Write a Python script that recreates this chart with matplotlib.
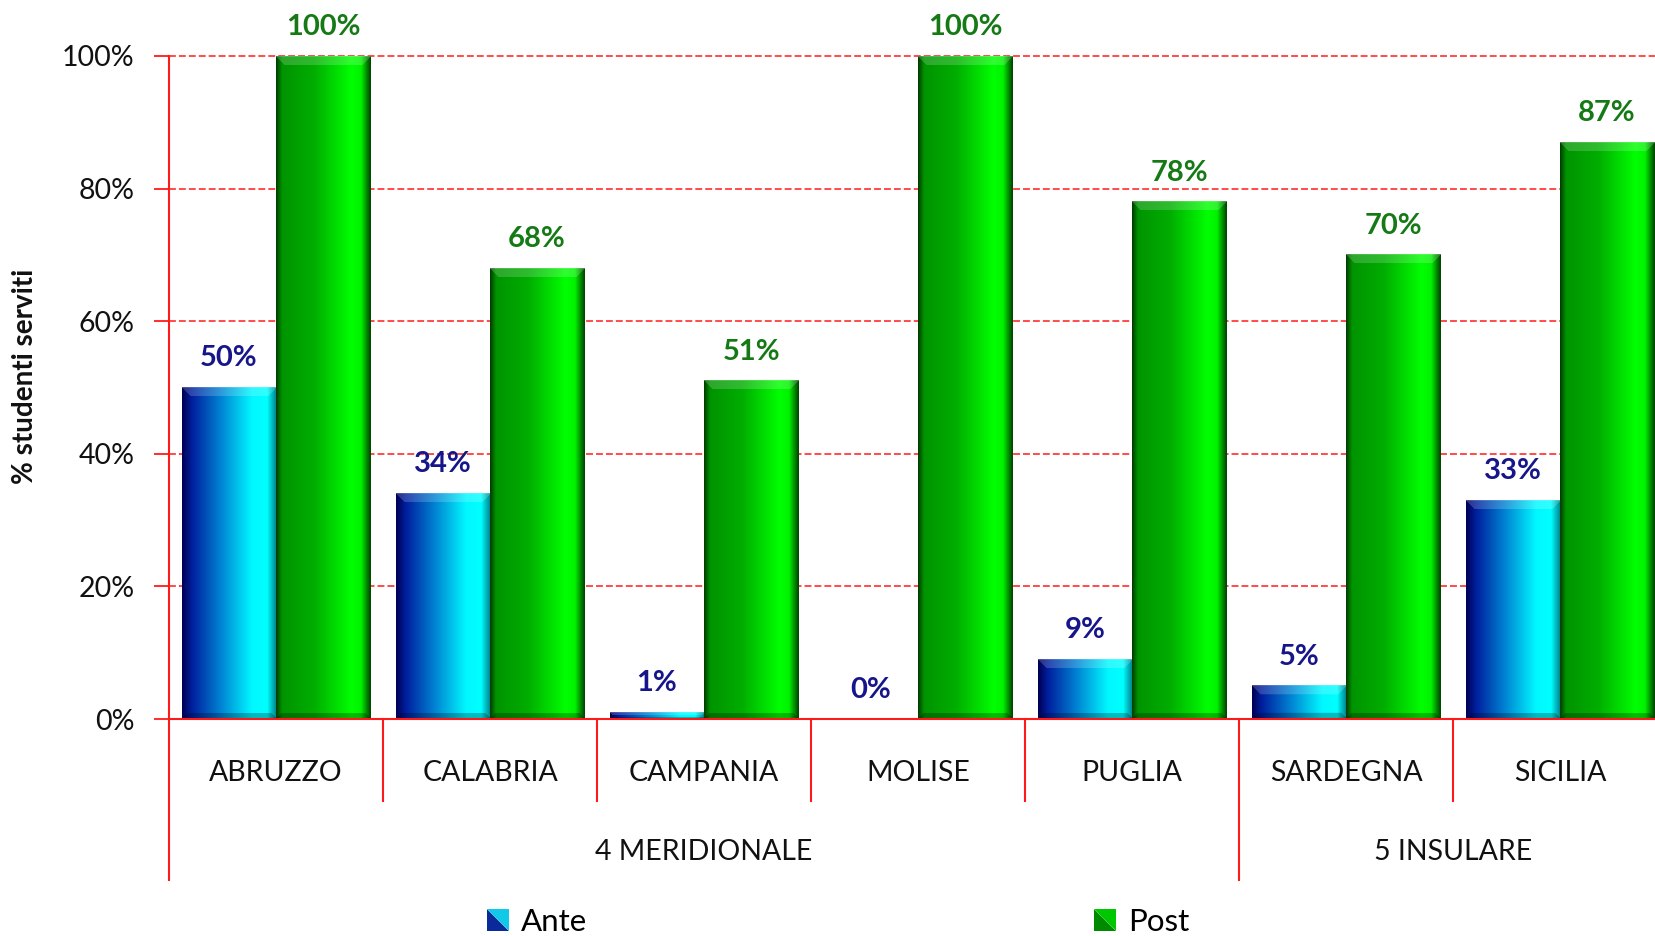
import numpy as np
import matplotlib
matplotlib.use("Agg")
import matplotlib.pyplot as plt
from matplotlib.patches import Polygon
from matplotlib.legend_handler import HandlerBase
from matplotlib.patches import Patch

# ---------------- data ----------------
regions = ["ABRUZZO", "CALABRIA", "CAMPANIA", "MOLISE", "PUGLIA", "SARDEGNA", "SICILIA"]
groups = ["4 MERIDIONALE", "5 INSULARE"]
group_sizes = [5, 2]
ante = [50, 34, 1, 0, 9, 5, 33]
post = [100, 68, 51, 100, 78, 70, 87]
series_names = ["Ante", "Post"]
y_ticks = [0, 20, 40, 60, 80, 100]
y_label = "% studenti serviti"

plt.rcParams['font.family'] = ['Lato', 'DejaVu Sans']

W, H, DPI = 1655, 936, 100
fig = plt.figure(figsize=(W / DPI, H / DPI), dpi=DPI)
ax_left, ax_top, ax_bottom, cat_px = 169, 56, 719, 214
ax = fig.add_axes([ax_left / W, 1 - ax_bottom / H, 7 * cat_px / W, (ax_bottom - ax_top) / H])
ax_h_px = ax_bottom - ax_top

RED = '#ff1a1a'
TXT = '#111111'
ANTE_STOPS = [(0.00, (0.0, 0.0, 0.33)), (0.10, (0.0, 0.12, 0.62)), (0.40, (0.0, 0.50, 0.82)),
              (0.74, (0.0, 0.97, 1.0)), (0.90, (0.0, 1.0, 1.0)), (1.00, (0.0, 0.5, 0.55))]
POST_STOPS = [(0.00, (0.0, 0.25, 0.0)), (0.06, (0.0, 0.58, 0.0)), (0.40, (0.0, 0.68, 0.0)),
              (0.80, (0.0, 1.0, 0.0)), (0.90, (0.0, 0.95, 0.0)), (1.00, (0.0, 0.28, 0.0))]


def col_gradient(stops, ncols):
    pos = np.array([s[0] for s in stops])
    cols = np.array([s[1] for s in stops])
    t = np.linspace(0, 1, ncols)
    return np.stack([np.interp(t, pos, cols[:, k]) for k in range(3)], axis=1)


def bar_image(stops, ncols, nrows):
    row = col_gradient(stops, ncols)
    img = np.repeat(row[None, :, :], nrows, axis=0)
    bev = min(9, nrows // 2)
    for r in range(bev):
        c0, c1 = r, ncols - r
        if c1 > c0:
            f = 0.30 if r == 0 else 0.18
            img[r, c0:c1] = img[r, c0:c1] * (1 - f) + f
    bb = min(6, nrows // 3)
    for r in range(bb):
        rr = nrows - 1 - r
        c0, c1 = r, ncols - r
        if c1 > c0:
            img[rr, c0:c1] = img[rr, c0:c1] * 0.75
    return np.clip(img, 0, 1)


x = np.arange(len(regions))
bw = 0.44
bars_a = ax.bar(x - bw / 2, ante, width=bw, color='none', zorder=3)
bars_p = ax.bar(x + bw / 2, post, width=bw, color='none', zorder=3)

ncols = int(bw * cat_px)
for bars, stops in ((bars_a, ANTE_STOPS), (bars_p, POST_STOPS)):
    for b in bars:
        h = b.get_height()
        if h <= 0:
            continue
        nrows = max(2, int(round(h / 100 * ax_h_px)))
        img = bar_image(stops, ncols, nrows)
        x0 = b.get_x()
        ax.imshow(img, extent=[x0, x0 + b.get_width(), 0, h], aspect='auto',
                  origin='upper', zorder=3, interpolation='bilinear')

# data labels
for bars, vals, col in ((bars_a, ante, '#16168a'), (bars_p, post, '#157a15')):
    for b, v in zip(bars, vals):
        ax.annotate(f"{v}%", (b.get_x() + b.get_width() / 2, v), xytext=(0, 21),
                    textcoords='offset points', ha='center', va='center',
                    fontsize=21, fontweight='bold', color=col, annotation_clip=False)

ax.set_xlim(-0.5, len(regions) - 0.5)
ax.set_ylim(0, 100)
ax.set_yticks(y_ticks)
ax.set_yticklabels([f"{t}%" for t in y_ticks], fontsize=20.5, color=TXT)
ax.tick_params(axis='y', direction='out', length=11, width=1.3, color=RED, pad=14)
ax.set_xticks([])
for t in y_ticks[1:]:
    ax.axhline(t, color=RED, lw=1.1, ls=(0, (4.5, 2.0)), zorder=1, clip_on=False)
for s in ('top', 'right'):
    ax.spines[s].set_visible(False)
for s in ('left', 'bottom'):
    ax.spines[s].set_color(RED)
    ax.spines[s].set_linewidth(1.5)
    ax.spines[s].set_zorder(4)

# hierarchical x axis
tr = ax.get_xaxis_transform()
short = (801 - ax_bottom) / ax_h_px
long_ = (880 - ax_bottom) / ax_h_px
bounds = np.cumsum([0] + group_sizes) - 0.5
for i in range(len(regions) + 1):
    xb = i - 0.5
    d = long_ if xb in bounds else short
    ax.plot([xb, xb], [0, -d], transform=tr, color=RED, lw=1.5, clip_on=False)
for i, r in enumerate(regions):
    ax.text(i, -(773 - ax_bottom) / ax_h_px, r, transform=tr, ha='center', va='center',
            fontsize=20.5, color=TXT)
for g, b0, b1 in zip(groups, bounds[:-1], bounds[1:]):
    ax.text((b0 + b1) / 2, -(852 - ax_bottom) / ax_h_px, g, transform=tr, ha='center',
            va='center', fontsize=20.5, color=TXT)

fig.text(25 / W, 1 - 376 / H, y_label, rotation=90, ha='center', va='center',
         fontsize=20, fontweight='bold', color=TXT)


# legend
class GradHandler(HandlerBase):
    def __init__(self, dark, light):
        super().__init__()
        self.dark, self.light = dark, light

    def create_artists(self, legend, orig_handle, xdescent, ydescent, width, height,
                       fontsize, trans):
        s = height
        x0, y0 = -xdescent + (width - s) / 2, -ydescent
        p1 = Polygon([[x0, y0], [x0 + s, y0], [x0, y0 + s]], closed=True,
                     facecolor=self.dark, edgecolor='none', transform=trans)
        p2 = Polygon([[x0 + s, y0], [x0 + s, y0 + s], [x0, y0 + s]], closed=True,
                     facecolor=self.light, edgecolor='none', transform=trans)
        return [p1, p2]


leg_specs = [(series_names[0], '#0a2a9a', '#10c8e8', 487), (series_names[1], '#008a00', '#00c800', 1094)]
for name, dark, light, xpos in leg_specs:
    h = Patch(label=name)
    fig.legend([h], [name], loc='center left', bbox_to_anchor=(xpos / W, 1 - 922 / H),
               frameon=False, fontsize=22.5, handlelength=0.7, handleheight=0.7,
               handletextpad=0.4, borderpad=0, borderaxespad=0,
               handler_map={h: GradHandler(dark, light)})

fig.savefig("out.png", dpi=DPI)
